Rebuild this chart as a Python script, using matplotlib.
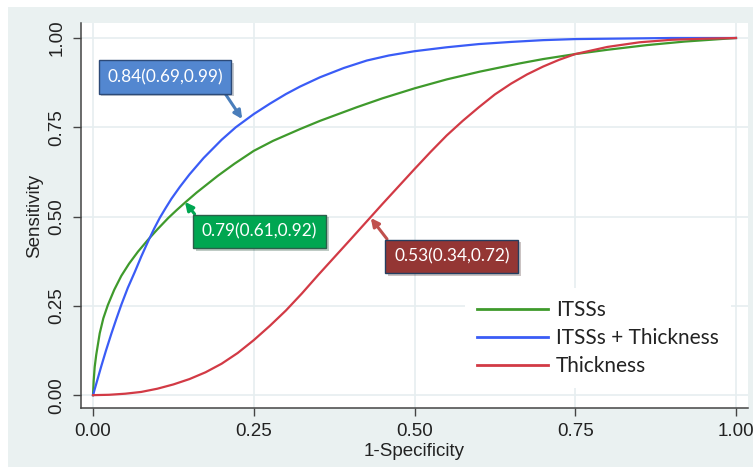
import matplotlib
matplotlib.use("Agg")
import matplotlib.pyplot as plt
import matplotlib.patheffects as pe
from matplotlib.patches import Rectangle

# ROC curves
fpr_itss = [0, 0.001, 0.0026, 0.005, 0.0104, 0.016, 0.023, 0.033, 0.044, 0.056, 0.07,
            0.0855, 0.1, 0.117, 0.13, 0.143, 0.161, 0.194, 0.22, 0.25, 0.28, 0.322,
            0.353, 0.41, 0.45, 0.5, 0.55, 0.602, 0.664, 0.7, 0.75, 0.8, 0.861, 0.92, 1.0]
tpr_itss = [0, 0.04, 0.079, 0.113, 0.173, 0.215, 0.252, 0.295, 0.334, 0.368, 0.402,
            0.435, 0.464, 0.496, 0.518, 0.539, 0.567, 0.614, 0.648, 0.684, 0.712, 0.745,
            0.768, 0.806, 0.831, 0.859, 0.884, 0.906, 0.929, 0.941, 0.955, 0.967, 0.98, 0.99, 1.0]

fpr_both = [0, 0.006, 0.013, 0.02, 0.0285, 0.036, 0.044, 0.054, 0.065, 0.075, 0.0855,
            0.095, 0.104, 0.113, 0.122, 0.135, 0.15, 0.172, 0.2, 0.222, 0.25, 0.275,
            0.3, 0.322, 0.353, 0.39, 0.426, 0.46, 0.5, 0.55, 0.6, 0.65, 0.7, 0.75,
            0.8, 0.85, 0.9, 1.0]
tpr_both = [0, 0.038, 0.082, 0.124, 0.172, 0.212, 0.253, 0.3, 0.345, 0.388, 0.43,
            0.466, 0.497, 0.524, 0.55, 0.583, 0.618, 0.664, 0.715, 0.75, 0.787, 0.816,
            0.843, 0.864, 0.89, 0.916, 0.937, 0.951, 0.963, 0.974, 0.983, 0.989, 0.994, 0.997,
            0.998, 0.999, 1.0, 1.0]

fpr_thick = [0, 0.025, 0.05, 0.075, 0.1, 0.125, 0.15, 0.175, 0.2, 0.225, 0.25, 0.275,
             0.3, 0.325, 0.35, 0.4, 0.45, 0.5, 0.525, 0.55, 0.575, 0.6, 0.625, 0.65, 0.675,
             0.7, 0.725, 0.75, 0.8, 0.85, 0.9, 0.95, 1.0]
tpr_thick = [0, 0.001, 0.004, 0.009, 0.018, 0.03, 0.045, 0.064, 0.088, 0.118, 0.154, 0.194,
             0.237, 0.285, 0.336, 0.435, 0.535, 0.633, 0.681, 0.727, 0.768, 0.806, 0.842, 0.872,
             0.898, 0.92, 0.939, 0.955, 0.975, 0.988, 0.995, 0.998, 1.0]

labels = ["ITSSs", "ITSSs + Thickness", "Thickness"]
auc_text = ["0.79(0.61,0.92)", "0.84(0.69,0.99)", "0.53(0.34,0.72)"]
ticks = [0, 0.25, 0.5, 0.75, 1.0]
tick_labels = ["0.00", "0.25", "0.50", "0.75", "1.00"]

green = "#3f9a2c"
blue = "#3a5cf6"
red = "#d23a45"

fig = plt.figure(figsize=(7.53, 4.67), dpi=100)
fig.patch.set_facecolor("white")
bg = Rectangle((8 / 753, 0), 1, (467 - 7) / 467, transform=fig.transFigure,
               facecolor="#eaf1f1", edgecolor="none", zorder=-10)
fig.add_artist(bg)

ax = fig.add_axes([81 / 753, 1 - 408 / 467, (748 - 81) / 753, (408 - 23) / 467])
ax.set_zorder(1)
ax.set_facecolor("white")

ax.plot(fpr_itss, tpr_itss, color=green, lw=1.6, label=labels[0], zorder=3)
ax.plot(fpr_both, tpr_both, color=blue, lw=1.6, label=labels[1], zorder=3)
ax.plot(fpr_thick, tpr_thick, color=red, lw=1.6, label=labels[2], zorder=3)

ax.set_xlim(-0.0187, 1.0187)
ax.set_ylim(-0.036, 1.042)
ax.set_xticks(ticks)
ax.set_xticklabels(tick_labels)
ax.set_yticks(ticks)
ax.set_yticklabels(tick_labels, rotation=90, va="center")
ax.grid(True, color="#e6eef0", lw=1.2)
ax.set_axisbelow(True)
for s in ["top", "right"]:
    ax.spines[s].set_visible(False)
for s in ["left", "bottom"]:
    ax.spines[s].set_color("#444444")
    ax.spines[s].set_linewidth(1.1)
ax.tick_params(direction="out", length=6, width=1.0, color="#444444",
               labelsize=13.5, labelcolor="#222222", pad=5)
for t in ax.get_xticklabels() + ax.get_yticklabels():
    t.set_family("Liberation Sans")

ax.set_xlabel("1-Specificity", family="Liberation Sans", fontsize=13.5, color="#222222", labelpad=2)
ax.set_ylabel("Sensitivity", family="Liberation Sans", fontsize=13.5, color="#222222", labelpad=4)

# AUC boxes with arrows
boxes = [
    (auc_text[1], (0.232, 0.773), (0.112, 0.891), "#5387d0", "#2c4a78", "#4a7ebb", (0.97, 0.0)),
    (auc_text[0], (0.143, 0.541), (0.259, 0.459), "#00a651", "#2b5f4a", "#00a651", (0.0, 1.0)),
    (auc_text[2], (0.432, 0.496), (0.558, 0.389), "#943634", "#243f60", "#c0504d", (0.0, 1.0)),
]
for txt, tip, pos, fc, ec, ac, rp in boxes:
    a = ax.annotate(txt, xy=tip, xytext=pos, ha="center", va="center",
                    fontsize=12.4, family="Lato", color="white", zorder=5,
                    bbox=dict(boxstyle="square,pad=0.5", fc=fc, ec=ec, lw=1.0),
                    arrowprops=dict(arrowstyle="-|>", color=ac, lw=2.2, mutation_scale=12,
                                    shrinkA=0, shrinkB=0, relpos=rp))
    a.get_bbox_patch().set_path_effects([pe.withSimplePatchShadow(offset=(2, -2), alpha=0.25)])

leg = ax.legend(loc="upper left", bbox_to_anchor=((464.5 - 81) / 667, (408 - 288) / 385),
                frameon=True, fancybox=False, facecolor="white", edgecolor="none", framealpha=1,
                prop={"family": "Lato", "size": 15}, handlelength=3.4, handletextpad=0.38,
                labelspacing=0.37, borderpad=0.6, borderaxespad=0)
for t in leg.get_texts():
    t.set_color("#222222")
for h in leg.get_lines():
    h.set_linewidth(2.0)

fig.savefig("out.png", dpi=100)
